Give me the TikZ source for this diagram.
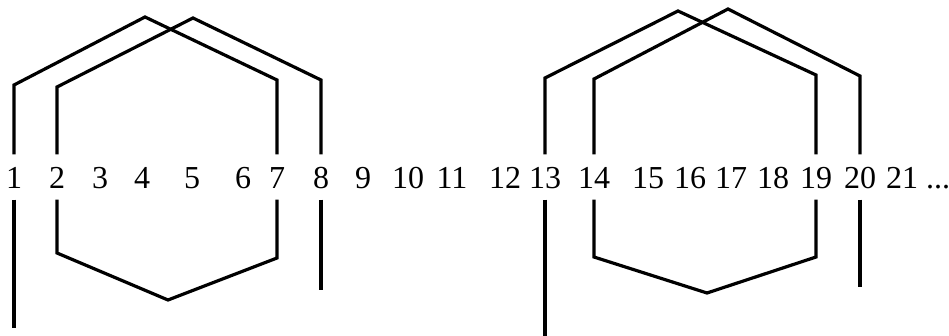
\documentclass[tikz,border=0pt]{standalone}
\usepackage{fontspec}
\setmainfont{Liberation Serif}
\begin{document}
\begin{tikzpicture}[x=1pt,y=-1pt,
  lbl/.style={inner sep=0pt, minimum height=45pt, text height=23pt, text depth=0pt,
              font=\fontsize{32}{38}\selectfont},
  chainline/.style={line width=3.2pt, line join=miter}]
\useasboundingbox[fill=white] (0,0) rectangle (949,336);
\foreach \n/\x in {1/14,2/57,3/100,4/142,5/192,6/243,7/277,8/321,9/363,10/408,11/452,
                   12/505,13/545,14/594,15/648,16/690,17/731,18/773,19/816,20/860,21/902}
  \node[lbl] (n\n) at (\x,177) {\n};
\node[lbl] (dots) at (938,177) {...};
% free ends
\coordinate (e1) at (14,328);
\coordinate (e8) at (321,290);
\coordinate (e13) at (545,336);
\coordinate (e20) at (860,287);
% first group
\draw[chainline] (n1.north) -- (14,85) -- (145,17) -- (277,80) -- (n7.north);
\draw[chainline] (n2.north) -- (57,87) -- (193,18) -- (321,80) -- (n8.north);
\draw[chainline] (n2.south) -- (57,253) -- (168,300) -- (277,258) -- (n7.south);
\draw[chainline] (n1.south) -- (e1);
\draw[chainline] (n8.south) -- (e8);
% second group
\draw[chainline] (n13.north) -- (545,78) -- (678,11) -- (816,75) -- (n19.north);
\draw[chainline] (n14.north) -- (594,79) -- (728,9) -- (860,76) -- (n20.north);
\draw[chainline] (n14.south) -- (594,257) -- (707,293) -- (816,257) -- (n19.south);
\draw[chainline] (n13.south) -- (e13);
\draw[chainline] (n20.south) -- (e20);
\end{tikzpicture}
\end{document}
